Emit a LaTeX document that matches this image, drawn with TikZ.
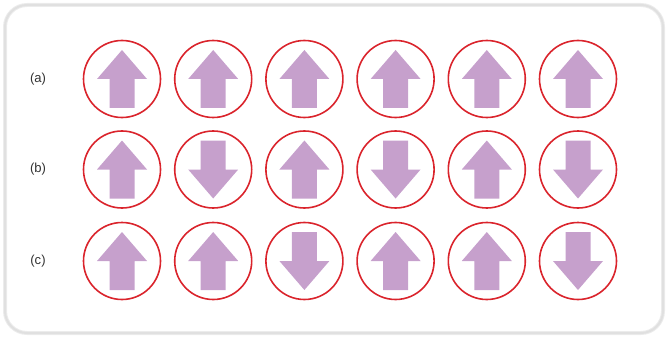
\documentclass[tikz,border=0pt]{standalone}
\usepackage{fontspec}
\setmainfont{Liberation Sans}
\definecolor{ringred}{RGB}{218,36,44}
\definecolor{spinpurple}{RGB}{198,160,204}
\definecolor{framegray}{RGB}{224,224,224}
\definecolor{labelgray}{RGB}{50,50,50}
\begin{document}
\begin{tikzpicture}[x=1pt,y=1pt,
  ring/.style={draw=ringred,line width=1.6pt,circle,minimum size=77pt,inner sep=0pt},
  rowlabel/.style={text=labelgray,font=\fontsize{13bp}{15bp}\selectfont},
  pics/spinup/.style={code={\fill[spinpurple] (0,29)--(25,0)--(12.5,0)--(12.5,-29)--(-12.5,-29)--(-12.5,0)--(-25,0)--cycle;}},
  pics/spindown/.style={code={\fill[spinpurple] (0,-29)--(25,0)--(12.5,0)--(12.5,29)--(-12.5,29)--(-12.5,0)--(-25,0)--cycle;}}]
\useasboundingbox (0,0) rectangle (669,338);
\draw[framegray!60,line width=4pt,rounded corners=22pt] (5,5) rectangle (663,333);
\draw[framegray,line width=2pt,rounded corners=22pt] (5,5) rectangle (663,333);
% row (a)
\node[rowlabel] (la) at (38,259) {(a)};
\node[ring] (a1) at (122,259) {};\node[ring] (a2) at (213.2,259) {};\node[ring] (a3) at (304.4,259) {};
\node[ring] (a4) at (395.6,259) {};\node[ring] (a5) at (486.8,259) {};\node[ring] (a6) at (578,259) {};
\pic at (a1) {spinup};\pic at (a2) {spinup};\pic at (a3) {spinup};\pic at (a4) {spinup};\pic at (a5) {spinup};\pic at (a6) {spinup};
% row (b)
\node[rowlabel] (lb) at (38,168.5) {(b)};
\node[ring] (b1) at (122,168.5) {};\node[ring] (b2) at (213.2,168.5) {};\node[ring] (b3) at (304.4,168.5) {};
\node[ring] (b4) at (395.6,168.5) {};\node[ring] (b5) at (486.8,168.5) {};\node[ring] (b6) at (578,168.5) {};
\pic at (b1) {spinup};\pic at (b2) {spindown};\pic at (b3) {spinup};\pic at (b4) {spindown};\pic at (b5) {spinup};\pic at (b6) {spindown};
% row (c)
\node[rowlabel] (lc) at (38,77) {(c)};
\node[ring] (c1) at (122,77) {};\node[ring] (c2) at (213.2,77) {};\node[ring] (c3) at (304.4,77) {};
\node[ring] (c4) at (395.6,77) {};\node[ring] (c5) at (486.8,77) {};\node[ring] (c6) at (578,77) {};
\pic at (c1) {spinup};\pic at (c2) {spinup};\pic at (c3) {spindown};\pic at (c4) {spinup};\pic at (c5) {spinup};\pic at (c6) {spindown};
\end{tikzpicture}
\end{document}
